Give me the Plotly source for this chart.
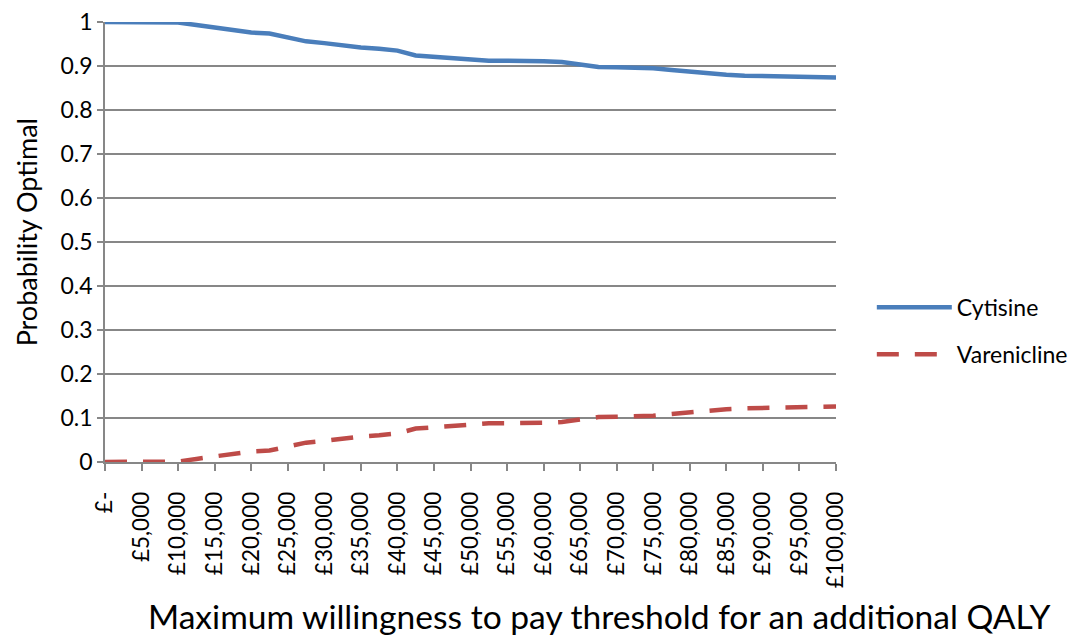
import plotly.graph_objects as go

# Willingness-to-pay thresholds (£ per QALY)
wtp = [0, 2500, 5000, 7500, 10000, 12500, 15000, 17500, 20000, 22500, 25000,
       27500, 30000, 32500, 35000, 37500, 40000, 42500, 45000, 47500, 50000,
       52500, 55000, 57500, 60000, 62500, 65000, 67500, 70000, 72500, 75000,
       77500, 80000, 82500, 85000, 87500, 90000, 92500, 95000, 97500, 100000]

# Probability each treatment is optimal
cytisine = [1.0, 1.0, 1.0, 1.0, 0.999, 0.993, 0.988, 0.982, 0.976, 0.974, 0.965,
            0.956, 0.952, 0.946, 0.942, 0.939, 0.935, 0.924, 0.921, 0.918, 0.915,
            0.912, 0.912, 0.912, 0.911, 0.909, 0.904, 0.898, 0.897, 0.896, 0.895,
            0.891, 0.887, 0.884, 0.880, 0.878, 0.877, 0.877, 0.876, 0.875, 0.874]
varenicline = [0.0, 0.0, 0.0, 0.0, 0.001, 0.007, 0.012, 0.018, 0.024, 0.026, 0.035,
               0.044, 0.048, 0.054, 0.058, 0.061, 0.065, 0.076, 0.079, 0.082, 0.085,
               0.088, 0.088, 0.088, 0.089, 0.091, 0.096, 0.102, 0.103, 0.104, 0.105,
               0.109, 0.113, 0.116, 0.120, 0.122, 0.123, 0.123, 0.124, 0.125, 0.126]

x_tick_vals = list(range(0, 100001, 5000))
x_tick_text = ["£-"] + [f"£{v:,}" for v in x_tick_vals[1:]]
y_tick_vals = [i / 10 for i in range(11)]
y_tick_text = ["0", "0.1", "0.2", "0.3", "0.4", "0.5", "0.6", "0.7", "0.8", "0.9", "1"]

FONT = "Lato"
GRID = "#878787"
TICK_SIZE = 23

fig = go.Figure()
fig.add_trace(go.Scatter(
    x=wtp, y=cytisine, name="Cytisine", mode="lines", legendgroup="c",
    line=dict(color="#4A7EBB", width=4.5),
))
fig.add_trace(go.Scatter(
    x=wtp, y=varenicline, name="Varenicline", mode="lines", legendgroup="v",
    line=dict(color="#BE4B48", width=4.5, dash="22px,16px"),
))

fig.update_layout(
    width=1079, height=637,
    margin=dict(l=105, r=243, t=22, b=175, autoexpand=False),
    paper_bgcolor="white", plot_bgcolor="white",
    font=dict(family=FONT, size=TICK_SIZE, color="black"),
    showlegend=True,
    legend=dict(
        x=1.049, y=0.298, xanchor="left", yanchor="middle",
        font=dict(family=FONT, size=TICK_SIZE, color="black"),
        itemwidth=75, tracegroupgap=14, traceorder="grouped",
    ),
    xaxis=dict(
        range=[0, 100000], automargin=False,
        tickmode="array", tickvals=x_tick_vals, ticktext=x_tick_text,
        tickangle=-90, ticks="outside", ticklen=7, tickcolor=GRID, tickwidth=1.5,
        ticklabelstandoff=12,
        showgrid=False, zeroline=False,
        showline=True, linecolor=GRID, linewidth=1.5,
        tickfont=dict(family=FONT, size=22.5),
    ),
    yaxis=dict(
        range=[0, 1], automargin=False,
        tickmode="array", tickvals=y_tick_vals, ticktext=y_tick_text,
        ticks="outside", ticklen=6, tickcolor=GRID, tickwidth=1.5,
        showgrid=True, gridcolor=GRID, gridwidth=1.5,
        zeroline=False,
        showline=True, linecolor=GRID, linewidth=1.5,
        tickfont=dict(family=FONT, size=TICK_SIZE),
    ),
    annotations=[
        dict(text="Maximum willingness to pay threshold for an additional QALY",
             xref="paper", yref="paper", x=0.677, y=-0.4,
             xanchor="center", yanchor="bottom", showarrow=False,
             font=dict(family=FONT, size=33.6, color="black")),
        dict(text="Probability Optimal", textangle=-90,
             xref="paper", yref="paper", x=-0.108, y=0.522,
             xanchor="center", yanchor="middle", showarrow=False,
             font=dict(family=FONT, size=27, color="black")),
    ],
)

fig.write_html("out.html")
